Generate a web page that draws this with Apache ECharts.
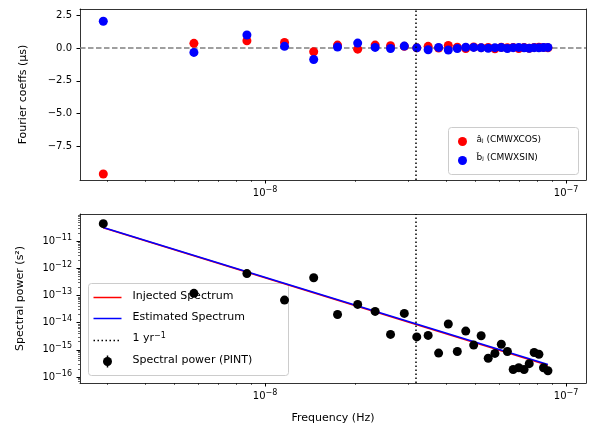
<!DOCTYPE html>
<html><head><meta charset="utf-8">
<script src="https://cdn.jsdelivr.net/npm/echarts@6/dist/echarts.min.js"></script>
<style>html,body{margin:0;padding:0;background:#fff}#c{width:598px;height:439px}</style>
</head><body><div id="c"></div>
<script>
// Frequency index j (f_j = j * F0)
const F0 = 2.9e-9;
const harmonics = [1,2,3,4,5,6,7,8,9,10,11,12,13,14,15,16,17,18,19,20,21,22,23,24,25,26,27,28,29,30];
// Fourier coefficients (microseconds)
const cosCoeffs = [-9.6,0.36,0.56,0.43,-0.28,0.23,-0.08,0.23,0.18,0.13,0.02,0.13,0.0,0.2,0.06,-0.04,0.08,0.03,0.05,-0.05,0.06,0.02,0.05,-0.03,0.04,-0.02,0.05,0.06,0.05,0.02];
const sinCoeffs = [2.05,-0.33,1.0,0.13,-0.87,0.08,0.38,0.05,-0.03,0.15,0.02,-0.13,0.05,-0.15,-0.03,0.06,0.05,0.02,-0.02,0.03,0.04,-0.03,0.03,0.05,0.02,-0.02,0.03,0.02,0.04,0.05];
// Spectral power (s^2)
const specPower = [4.4e-11,1.2e-13,6.4e-13,6.8e-14,4.5e-13,2.0e-14,4.7e-14,2.6e-14,3.7e-15,2.2e-14,3.0e-15,3.4e-15,7.6e-16,8.9e-15,8.7e-16,4.9e-15,1.5e-15,3.3e-15,4.9e-16,7.4e-16,1.6e-15,8.7e-16,1.9e-16,2.2e-16,1.9e-16,3.1e-16,8.0e-16,6.9e-16,2.2e-16,1.7e-16];
// Power-law spectra, endpoints at j=1 and j=30
const lineHarm = [1,30];
const injected = [3.1e-11,2.7e-16];
const estimated = [3.2e-11,2.9e-16];
const oneYr = 1/(365.25*86400);
const xMajor = [-8,-7];
const yTopTicks = [2.5,0,-2.5,-5,-7.5];
const yBotTicks = [-11,-12,-13,-14,-15,-16];

const L = Math.log10;
const xMinor = [];
for (let e=-9;e<=-7;e++) for (let m=2;m<=9;m++){const v=L(m*Math.pow(10,e)); if(v>-8.615&&v<-6.934) xMinor.push(v);}
const yMinor = [];
for (let e=-17;e<=-10;e++) for (let m=2;m<=9;m++){const v=L(m*Math.pow(10,e)); if(v>-16.22&&v<-10.0) yMinor.push(v);}

const font = 'DejaVu Sans';
const sup = v => '10{s|' + String(v).replace('-','−') + '}';
const rich = {s:{fontSize:8,verticalAlign:'top',padding:[0,0,7,0],fontFamily:font,color:'#000'}};
const lineAx = {show:true,lineStyle:{color:'#000',width:0.8}};
const grids = [{left:80,right:12,top:9,height:171},{left:80,right:12,top:214,height:169}];
const xBase = (gi) => ({type:'value',gridIndex:gi,position:'bottom',min:-8.615,max:-6.934,splitLine:{show:false},axisLine:Object.assign({onZero:false},lineAx)});
const xAxes = [];
[0,1].forEach(gi=>{
  xAxes.push(Object.assign(xBase(gi),{axisTick:{show:true,length:3.5,lineStyle:{color:'#000'},customValues:xMajor},
    axisLabel:{customValues:xMajor,formatter:v=>sup(Math.round(v)),rich,fontFamily:font,fontSize:10,color:'#000',margin:6},
    name: gi===1?'Frequency (Hz)':'', nameLocation:'middle', nameGap:30, nameTextStyle:{fontFamily:font,fontSize:11,color:'#000'}}));
  xAxes.push(Object.assign(xBase(gi),{axisLine:{show:false,onZero:false},axisTick:{show:true,length:2,lineStyle:{color:'#000',width:0.6},customValues:xMinor},axisLabel:{show:false}}));
});
const xTop = [0,1].map(gi=>Object.assign(xBase(gi),{position:'top',axisTick:{show:false},axisLabel:{show:false}}));
xAxes.push(...xTop);
const yAxes = [
 {type:'value',gridIndex:0,position:'left',min:-10.06,max:2.98,splitLine:{show:false},axisLine:lineAx,
  axisTick:{show:true,length:3.5,lineStyle:{color:'#000'},customValues:yTopTicks},
  axisLabel:{customValues:yTopTicks,formatter:v=>v.toFixed(1).replace('-','−'),fontFamily:font,fontSize:10,color:'#000'},
  name:'Fourier coeffs (μs)',nameLocation:'middle',nameGap:51,nameTextStyle:{fontFamily:font,fontSize:11,color:'#000'}},
 {type:'value',gridIndex:1,position:'left',min:-16.22,max:-10.0,splitLine:{show:false},axisLine:lineAx,
  axisTick:{show:true,length:3.5,lineStyle:{color:'#000'},customValues:yBotTicks},
  axisLabel:{customValues:yBotTicks,formatter:v=>sup(Math.round(v)),rich,fontFamily:font,fontSize:10,color:'#000'},
  name:'Spectral power (s²)',nameLocation:'middle',nameGap:54,nameTextStyle:{fontFamily:font,fontSize:11,color:'#000'}},
 {type:'value',gridIndex:1,position:'left',min:-16.22,max:-10.0,axisLine:{show:false},splitLine:{show:false},axisLabel:{show:false},
  axisTick:{show:true,length:2,lineStyle:{color:'#000',width:0.6},customValues:yMinor}},
 {type:'value',gridIndex:0,min:-10.06,max:2.98,position:'right',splitLine:{show:false},axisLine:lineAx,axisTick:{show:false},axisLabel:{show:false}},
 {type:'value',gridIndex:1,min:-16.22,max:-10.0,position:'right',splitLine:{show:false},axisLine:lineAx,axisTick:{show:false},axisLabel:{show:false}}
];
const fx = j => L(j*F0);
const sc = (data,color,yi) => ({type:'scatter',xAxisIndex:0,yAxisIndex:yi,symbolSize:9,itemStyle:{color,opacity:1},data,silent:true});
const vline = (xi,yi)=>({type:'line',xAxisIndex:xi,yAxisIndex:yi,data:[],markLine:{silent:true,symbol:'none',label:{show:false},lineStyle:{color:'#000',type:[1.5,2.5],width:1.5},data:[{xAxis:L(oneYr)}]}});
const option = {
 animation:false,
 grid:grids, xAxis:xAxes, yAxis:yAxes,
 series:[
  {type:'line',xAxisIndex:0,yAxisIndex:0,data:[[-8.615,0],[-6.934,0]],symbol:'none',lineStyle:{color:'#808080',type:[5.5,2.5],width:1.5},z:1},
  vline(0,0),
  Object.assign(sc(harmonics.map((j,i)=>[fx(j),cosCoeffs[i]]),'#ff0000',0),{z:3}),
  Object.assign(sc(harmonics.map((j,i)=>[fx(j),sinCoeffs[i]]),'#0000ff',0),{z:4}),
  {type:'line',xAxisIndex:2,yAxisIndex:1,data:lineHarm.map((j,i)=>[fx(j),L(injected[i])]),symbol:'none',lineStyle:{color:'#ff0000',width:1.5},z:3},
  {type:'line',xAxisIndex:2,yAxisIndex:1,data:lineHarm.map((j,i)=>[fx(j),L(estimated[i])]),symbol:'none',lineStyle:{color:'#0000ff',width:1.5},z:4},
  vline(2,1),
  {type:'scatter',xAxisIndex:2,yAxisIndex:1,symbolSize:9,itemStyle:{color:'#000',opacity:1},data:harmonics.map((j,i)=>[fx(j),L(specPower[i])]),z:5}
 ],
 graphic:[
  {type:'group',left:448,top:127,z:100,children:[
   {type:'rect',shape:{x:0,y:0,width:130,height:47,r:3},style:{fill:'rgba(255,255,255,0.8)',stroke:'#cccccc',lineWidth:1}},
   {type:'circle',shape:{cx:14,cy:14,r:4.5},style:{fill:'#ff0000'}},
   {type:'text',x:28,y:8,style:{text:'âⱼ (CMWXCOS)',font:'9px DejaVu Sans',fill:'#000'}},
   {type:'circle',shape:{cx:14,cy:33,r:4.5},style:{fill:'#0000ff'}},
   {type:'text',x:28,y:26,style:{text:'b̂ⱼ (CMWXSIN)',font:'9px DejaVu Sans',fill:'#000'}}
  ]},
  {type:'group',left:88,top:283,z:100,children:[
   {type:'rect',shape:{x:0,y:0,width:200,height:92,r:3},style:{fill:'rgba(255,255,255,0.8)',stroke:'#cccccc',lineWidth:1}},
   {type:'line',shape:{x1:5,y1:14,x2:33,y2:14},style:{stroke:'#ff0000',lineWidth:1.5}},
   {type:'text',x:44,y:7,style:{text:'Injected Spectrum',font:'11px DejaVu Sans',fill:'#000'}},
   {type:'line',shape:{x1:5,y1:35,x2:33,y2:35},style:{stroke:'#0000ff',lineWidth:1.5}},
   {type:'text',x:44,y:28,style:{text:'Estimated Spectrum',font:'11px DejaVu Sans',fill:'#000'}},
   {type:'line',shape:{x1:5,y1:57,x2:33,y2:57},style:{stroke:'#000',lineWidth:1.5,lineDash:[1.5,2.5]}},
   {type:'text',x:44,y:48,style:{text:'1 yr{s|−1}',font:'11px DejaVu Sans',fill:'#000',rich:{s:{fontSize:8,verticalAlign:'top',padding:[0,0,6,0],fontFamily:font}}}},
   {type:'circle',shape:{cx:19,cy:78,r:4.5},style:{fill:'#000'}},
   {type:'line',shape:{x1:19,y1:72,x2:19,y2:84},style:{stroke:'#000',lineWidth:1.5}},
   {type:'text',x:44,y:71,style:{text:'Spectral power (PINT)',font:'11px DejaVu Sans',fill:'#000'}}
  ]}
 ]
};
echarts.init(document.getElementById('c'),null,{renderer:'canvas'}).setOption(option);
</script></body></html>
